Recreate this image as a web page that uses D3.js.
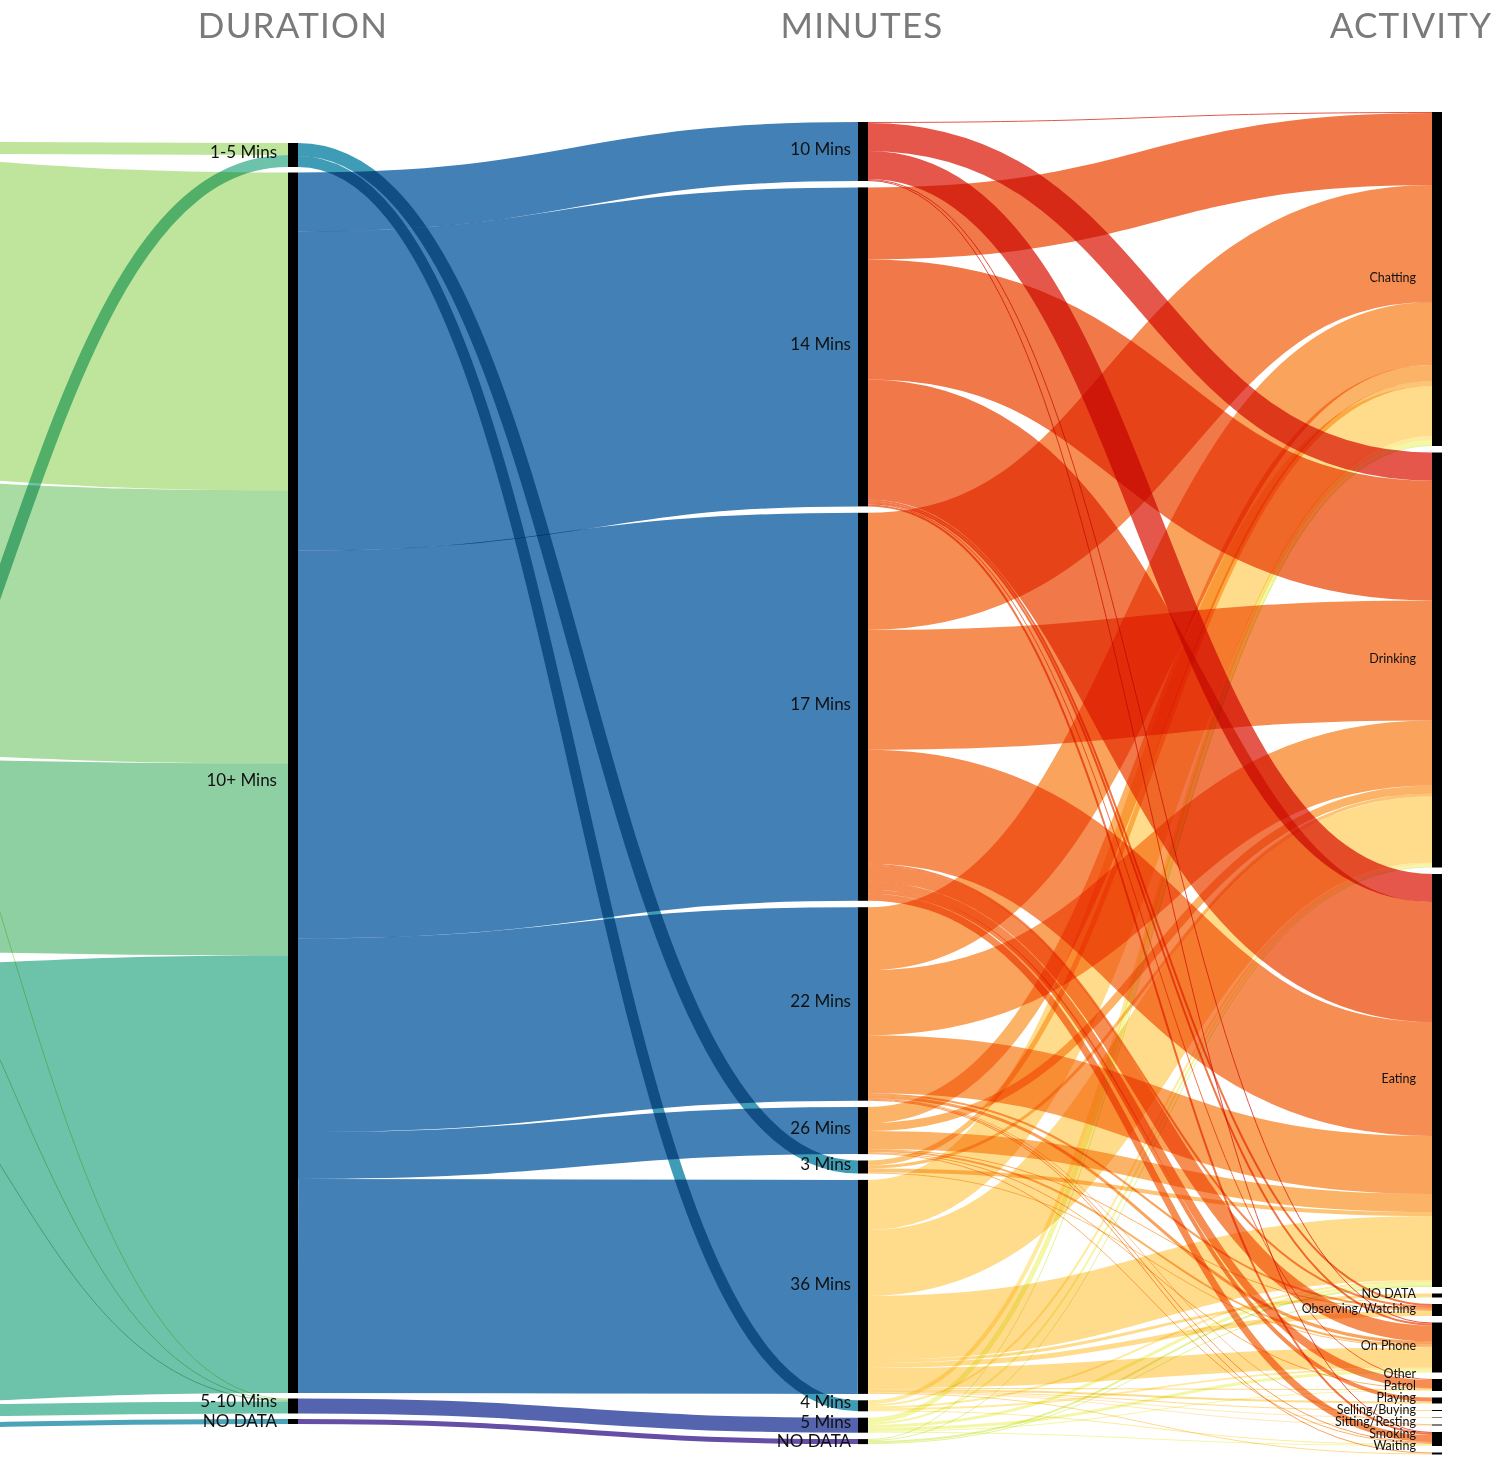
<!DOCTYPE html>
<html><head><meta charset="utf-8">
<script src="https://cdn.jsdelivr.net/npm/d3@7"></script>
<style>
html,body{margin:0;padding:0;background:#fff;}
svg{display:block;}
text{font-family:Lato,"Open Sans",sans-serif;}
</style></head><body>
<svg id="chart" width="1510" height="1458"></svg>
<script>
// ---------------- DATA ----------------
const columnTitles = ["", "DURATION", "MINUTES", "ACTIVITY"];
// first column lies outside the visible frame (its labels are not visible in the picture)
const sourceGroups = ["Group A", "Group B", "Group C", "Group D", "Group E"];
const durations = ["1-5 Mins", "10+ Mins", "5-10 Mins", "NO DATA"];
const minutes = ["10 Mins", "14 Mins", "17 Mins", "22 Mins", "26 Mins", "3 Mins", "36 Mins", "4 Mins", "5 Mins", "NO DATA"];
const activities = ["Chatting", "Drinking", "Eating", "NO DATA", "Observing/Watching", "On Phone", "Other", "Patrol", "Playing", "Selling/Buying", "Sitting/Resting", "Smoking", "Waiting"];

// group -> duration (rows: sourceGroups, cols: durations)
const groupToDuration = [
  [12, 318, 1, 0],
  [0, 273, 1, 0],
  [0, 192, 1, 0],
  [12, 437.5, 12, 0],
  [0, 0, 0, 5]
];
// duration -> minutes (rows: durations, cols: minutes)
const durationToMinutes = [
  [0, 0, 0, 0, 0, 13, 0, 11, 0, 0],
  [59, 319, 388, 193.5, 47, 0, 214, 0, 0, 0],
  [0, 0, 0, 0, 0, 0, 0, 0, 15, 0],
  [0, 0, 0, 0, 0, 0, 0, 0, 0, 5]
];
// minutes -> activity (rows: minutes, cols: activities)
const minutesToActivity = [
  [1, 28, 28, 0, 0, 1, 0, 0, 0, 0, 0, 1, 0],
  [72, 120, 120, 0, 2, 2, 1, 0, 0, 0, 0, 2, 0],
  [117, 120, 114, 0, 2, 16, 8, 4, 0, 0, 0, 7, 0],
  [63, 65, 58, 0, 2, 3, 0, 0, 0, 0, 0.5, 1, 1],
  [16, 8, 18, 0, 1, 2, 1, 0, 0, 0, 0, 1, 0],
  [5, 3, 4, 0, 0, 1, 0, 0, 0, 0, 0, 0, 0],
  [50, 66, 64, 3, 5, 20, 1, 2, 1, 0.5, 0.5, 0, 1],
  [4, 2, 2, 0, 0, 2, 0, 0, 0, 0, 0, 1, 0],
  [5, 2, 3, 0, 0, 3, 1, 0, 0, 0, 0, 1, 0],
  [1, 1, 2, 1, 0, 0, 0, 0, 0, 0, 0, 0, 0]
];

// ---------------- STYLE ----------------
const groupColors = ["#bfe59c", "#a9dca2", "#8fd0a2", "#6cc3a9", "#4aa3b8"];
const durationColors = ["#3f9cb7", "#4280b6", "#5564af", "#654ea6"];
const minuteColors = ["#e4574a", "#f07849", "#f68d52", "#f9a35c", "#fbb467", "#fcc576", "#fedc8c", "#feeba0", "#f3f7a6", "#e3f39c"];
const activityColors = activities.map(() => "#000");

const W = 1510, H = 1458, nodeW = 10;
const colX = [-284, 288, 858, 1432];
const colTop = [141, 143, 122, 112];
const colPad = [6, 5.5, 6.4, 6.5];

// ---------------- LAYOUT ----------------
const names = [sourceGroups, durations, minutes, activities];
const colors = [groupColors, durationColors, minuteColors, activityColors];
const matrices = [groupToDuration, durationToMinutes, minutesToActivity];

const nodes = names.map((arr, c) => arr.map((name, i) => ({name, col: c, idx: i, color: colors[c][i], inV: 0, outV: 0})));
const links = [];
matrices.forEach((m, s) => {
  m.forEach((row, i) => row.forEach((v, j) => {
    if (v > 0) {
      const src = nodes[s][i], tgt = nodes[s + 1][j];
      links.push({source: src, target: tgt, value: v});
      src.outV += v; tgt.inV += v;
    }
  }));
});
nodes.forEach(col => col.forEach(n => n.value = Math.max(n.inV, n.outV)));

const lastCol = nodes[3];
const lastTotal = d3.sum(lastCol, d => d.value);
const lastSpan = 1454.5 - colTop[3] - colPad[3] * (lastCol.length - 1);
const vScale = d3.scaleLinear().domain([0, lastTotal]).range([0, lastSpan]);

nodes.forEach((col, c) => {
  let y = colTop[c];
  col.forEach(n => {
    n.x0 = colX[c]; n.x1 = colX[c] + nodeW;
    n.y0 = y; n.y1 = y + vScale(n.value);
    y = n.y1 + colPad[c];
  });
});
nodes.forEach(col => col.forEach(n => {
  const outs = links.filter(l => l.source === n).sort((a, b) => a.target.y0 - b.target.y0);
  let yo = n.y0;
  outs.forEach(l => { l.width = vScale(l.value); l.y0 = yo + l.width / 2; yo += l.width; });
  const ins = links.filter(l => l.target === n).sort((a, b) => a.source.y0 - b.source.y0);
  let yi = n.y0;
  ins.forEach(l => { const w = vScale(l.value); l.y1 = yi + w / 2; yi += w; });
}));

// label positions: node centre, then spread apart where labels would collide
const labelCfg = {1: {x: 277, size: 17, gap: 19.5}, 2: {x: 851, size: 17, gap: 19.5}, 3: {x: 1416, size: 12.5, gap: 12}};
const labelMaxY = 1447;
nodes.slice(1).forEach(col => {
  col.forEach(n => n.ly = (n.y0 + n.y1) / 2);
  const gap = labelCfg[col[0].col].gap;
  for (let it = 0; it < 400; it++) {
    for (let i = 1; i < col.length; i++) {
      const d = col[i].ly - col[i - 1].ly;
      if (d < gap) { const s = (gap - d) / 2; col[i].ly += s; col[i - 1].ly -= s; }
    }
    const last = col[col.length - 1];
    if (last.ly > labelMaxY) last.ly = labelMaxY;
  }
});

// ---------------- DRAW ----------------
const svg = d3.select("#chart");
svg.append("rect").attr("width", W).attr("height", H).attr("fill", "#fff");

const linkGen = d3.linkHorizontal();
svg.append("g").attr("fill", "none")
  .selectAll("path").data(links).join("path")
  .attr("d", l => linkGen({source: [l.source.x1, l.y0], target: [l.target.x0, l.y1]}))
  .attr("stroke", l => l.source.color)
  .attr("stroke-width", l => Math.max(0.6, l.width))
  .style("mix-blend-mode", "multiply");

const allNodes = nodes.flat();
svg.append("g").selectAll("rect").data(allNodes.filter(n => n.col > 0)).join("rect")
  .attr("x", n => n.x0).attr("y", n => n.y0)
  .attr("width", nodeW).attr("height", n => Math.max(0.5, n.y1 - n.y0))
  .attr("fill", "#000");

svg.append("g").selectAll("text").data(allNodes.filter(n => n.col > 0)).join("text")
  .attr("x", n => labelCfg[n.col].x)
  .attr("y", n => n.ly)
  .attr("dy", "0.2em")
  .attr("text-anchor", "end")
  .attr("font-size", n => labelCfg[n.col].size)
  .attr("fill", "#111")
  .text(n => n.name);

// column titles
const titleX = [null, 293, 862, 1411];
svg.append("g").selectAll("text").data([1, 2, 3]).join("text")
  .attr("x", c => titleX[c]).attr("y", 38)
  .attr("text-anchor", "middle")
  .attr("font-size", 35)
  .attr("letter-spacing", 1.2)
  .attr("fill", "#7a7a7a")
  .text(c => columnTitles[c]);
</script>
</body></html>
